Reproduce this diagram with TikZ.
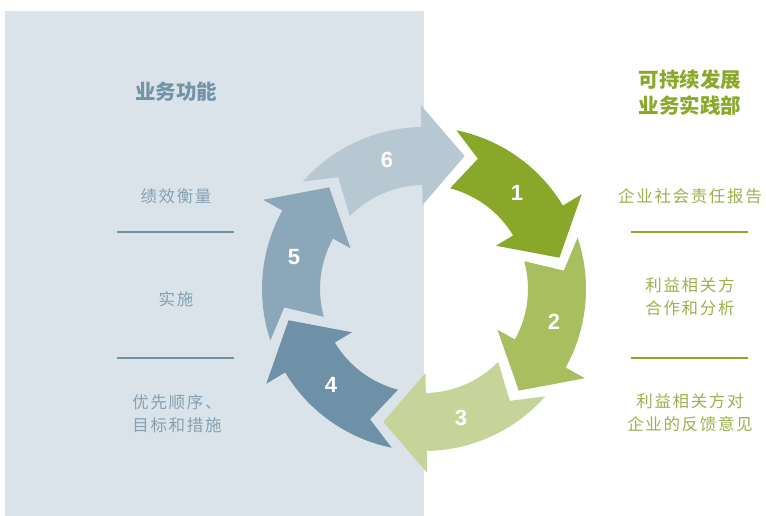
\documentclass[tikz,border=0pt]{standalone}
\usepackage{fontspec}
\setmainfont{Liberation Sans}
\newfontfamily\cjk{Noto Sans CJK SC}
\newfontfamily\cjkls[LetterSpace=10]{Noto Sans CJK SC}
\definecolor{cA}{HTML}{89A82A}
\definecolor{cB}{HTML}{A9BE5F}
\definecolor{cC}{HTML}{C6D49A}
\definecolor{cD}{HTML}{6E91A7}
\definecolor{cE}{HTML}{8CA7BA}
\definecolor{cF}{HTML}{B7C8D3}
\definecolor{panel}{HTML}{DAE3EA}
\definecolor{lhead}{HTML}{7393A8}
\definecolor{ltext}{HTML}{86A0B3}
\definecolor{rhead}{HTML}{8AA82A}
\definecolor{rtext}{HTML}{9BB24F}
\tikzset{
  numlabel/.style={text=white, font=\fontsize{22}{22}\selectfont\bfseries},
  headL/.style={text=lhead, font=\cjk\fontsize{20.5}{27}\selectfont\bfseries, align=center},
  headR/.style={text=rhead, font=\cjk\fontsize{20.5}{26}\selectfont\bfseries, align=center},
  txtL/.style={text=ltext, font=\cjkls\fontsize{16.5}{23}\selectfont, align=center},
  txtR/.style={text=rtext, font=\cjkls\fontsize{16.5}{23}\selectfont, align=center},
  ruleL/.style={draw=cD, line width=2.8pt},
  ruleR/.style={draw=cA, line width=2.8pt},
}
\newcommand{\cyclearrow}[3]{%
  \pgfmathsetmacro{\Ta}{#1+1.5}%
  \pgfmathsetmacro{\Tb}{#1-1.5}%
  \pgfmathsetmacro{\Hb}{#1-46}%
  \pgfmathsetmacro{\Tp}{#1-64}%
  \pgfmathsetmacro{\Nt}{#1-9.5}%
  \fill[#2] (\Ta:162pt) arc[start angle=\Ta, end angle=\Hb, radius=162pt]
    -- (\Hb:184pt) -- (\Tp:139pt) -- (\Hb:84pt) -- (\Hb:104pt)
    arc[start angle=\Hb, end angle=\Tb, radius=104pt]
    -- (\Nt:141pt) -- cycle;
  \pgfmathsetmacro{\La}{#1-31}%
  \node[numlabel] (n#3) at (\La:134pt) {#3};
}
\begin{document}
\begin{tikzpicture}[x=1pt,y=-1pt]
\useasboundingbox (0,0) rectangle (766,516);
\fill[white] (0,0) rectangle (766,516);
\fill[panel] (5,11) rectangle (424,516);
\begin{scope}[shift={(424,289)}, x=1pt, y=1pt]
  \cyclearrow{77}{cA}{1}
  \cyclearrow{17}{cB}{2}
  \cyclearrow{-43}{cC}{3}
  \cyclearrow{-103}{cD}{4}
  \cyclearrow{-163}{cE}{5}
  \cyclearrow{137}{cF}{6}
\end{scope}
% left column
\node[headL] (hl) at (176,92) {业务功能};
\node[txtL] (l1) at (176,196) {绩效衡量};
\draw[ruleL] (117,232) coordinate (la1) -- (234,232) coordinate (la2);
\node[txtL] (l2) at (176,299) {实施};
\draw[ruleL] (117,358) coordinate (lb1) -- (234,358) coordinate (lb2);
\node[txtL] (l3) at (177,414) {优先顺序、\\目标和措施};
% right column
\node[headR] (hr) at (690,93) {可持续发展\\业务实践部};
\node[txtR] (r1) at (690,196) {企业社会责任报告};
\draw[ruleR] (631,232) coordinate (ra1) -- (748,232) coordinate (ra2);
\node[txtR] (r2) at (690,297) {利益相关方\\合作和分析};
\draw[ruleR] (631,358) coordinate (rb1) -- (748,358) coordinate (rb2);
\node[txtR] (r3) at (690,413) {利益相关方对\\企业的反馈意见};
\end{tikzpicture}
\end{document}
